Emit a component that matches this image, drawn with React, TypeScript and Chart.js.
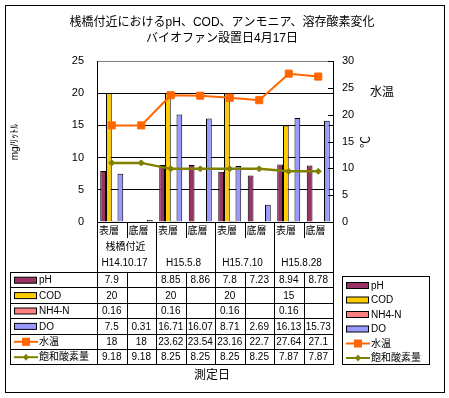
import { useEffect, useRef } from "react";
import { Chart, registerables } from "chart.js";
Chart.register(...registerables);

const categories = ["表層", "底層", "表層", "底層", "表層", "底層", "表層", "底層"];
const groupLabels = ["H14.10.17", "H15.5.8", "H15.7.10", "H15.8.28"];
const siteLabel = "桟橋付近";
const phValues = [7.9, null, 8.85, 8.86, 7.8, 7.23, 8.94, 8.78];
const codValues = [20, null, 20, null, 20, null, 15, null];
const nh4Values = [0.16, null, 0.16, null, 0.16, null, 0.16, null];
const doValues = [7.5, 0.31, 16.71, 16.07, 8.71, 2.69, 16.13, 15.73];
const waterTemp = [18, 18, 23.62, 23.54, 23.16, 22.7, 27.64, 27.1];
const satOxygen = [9.18, 9.18, 8.25, 8.25, 8.25, 8.25, 7.87, 7.87];

const titleLine1 = "桟橋付近におけるpH、COD、アンモニア、溶存酸素変化";
const titleLine2 = "バイオファン設置日4月17日";
const leftAxisTitle = "mg/ﾘｯﾄﾙ";
const rightAxisTitle = "水温";
const rightAxisUnit = "℃";
const xAxisTitle = "測定日";

const FONT = '"Liberation Sans", "Noto Sans CJK JP", sans-serif';

type DS = any;

function drawKey(ctx: CanvasRenderingContext2D, ds: DS, x: number, y: number) {
  ctx.save();
  if (ds.type === "line") {
    ctx.strokeStyle = ds.borderColor;
    ctx.lineWidth = 2;
    ctx.beginPath();
    ctx.moveTo(x, y + 0.5);
    ctx.lineTo(x + 24, y + 0.5);
    ctx.stroke();
    ctx.fillStyle = ds.pointBackgroundColor;
    const cx = x + 12;
    if (ds.pointStyle === "rect") {
      ctx.fillRect(cx - 4, y - 3.5, 8, 8);
    } else {
      ctx.beginPath();
      ctx.moveTo(cx, y - 3);
      ctx.lineTo(cx + 3, y + 0.5);
      ctx.lineTo(cx, y + 4);
      ctx.lineTo(cx - 3, y + 0.5);
      ctx.closePath();
      ctx.fill();
    }
  } else {
    ctx.fillStyle = ds.backgroundColor;
    ctx.fillRect(x + 0.5, y - 2.5, 22, 6);
    ctx.strokeStyle = "#000";
    ctx.lineWidth = 1;
    ctx.strokeRect(x + 0.5, y - 2.5, 22, 6);
  }
  ctx.restore();
}

const hline = (ctx: CanvasRenderingContext2D, x1: number, x2: number, y: number) => {
  const yy = Math.round(y) + 0.5;
  ctx.beginPath();
  ctx.moveTo(Math.round(x1), yy);
  ctx.lineTo(Math.round(x2) + 1, yy);
  ctx.stroke();
};
const vline = (ctx: CanvasRenderingContext2D, x: number, y1: number, y2: number) => {
  const xx = Math.round(x) + 0.5;
  ctx.beginPath();
  ctx.moveTo(xx, Math.round(y1));
  ctx.lineTo(xx, Math.round(y2) + 1);
  ctx.stroke();
};

const decorPlugin = {
  id: "decor",
  beforeDraw(chart: any) {
    const { ctx, width, height } = chart;
    ctx.save();
    ctx.fillStyle = "#fff";
    ctx.fillRect(0, 0, width, height);
    ctx.restore();
  },
  afterDraw(chart: any) {
    const ctx: CanvasRenderingContext2D = chart.ctx;
    const { left, right, top, bottom } = chart.chartArea;
    const xs = chart.scales.x;
    const y1 = chart.scales.y1;
    const n = categories.length;
    const w = (right - left) / n;
    const colX = (i: number) => xs.getPixelForValue(0) - w / 2 + i * w;
    const datasets = chart.data.datasets;

    ctx.save();
    ctx.strokeStyle = "#000";
    ctx.lineWidth = 1;
    ctx.fillStyle = "#000";

    // outer border
    ctx.strokeRect(5.5, 5.5, 439, 387);

    // right axis inner ticks
    y1.ticks.forEach((t: any) => {
      const py = y1.getPixelForValue(t.value);
      hline(ctx, right - 5, right, py);
    });

    // header rows
    const tableTop = 272;
    const rowH = 15.4;
    const tableBottom = tableTop + rowH * datasets.length;
    for (let i = 0; i <= n; i++) {
      if (i % 2 === 0) vline(ctx, colX(i), bottom, tableBottom);
      else vline(ctx, colX(i), bottom, bottom + 15);
    }
    ctx.textBaseline = "middle";
    ctx.font = `10px ${FONT}`;
    ctx.textAlign = "left";
    categories.forEach((c, i) => ctx.fillText(c, colX(i) + 2, bottom + 9));
    ctx.textAlign = "center";
    ctx.fillText(siteLabel, (colX(0) + colX(2)) / 2 - 1, bottom + 25);
    groupLabels.forEach((g, k) => ctx.fillText(g, (colX(2 * k) + colX(2 * k + 2)) / 2 - 2, bottom + 41));

    // data table
    for (let r = 0; r <= datasets.length; r++) hline(ctx, 10, colX(n), tableTop + r * rowH);
    vline(ctx, 10, tableTop, tableBottom);
    for (let i = 1; i < n; i += 2) vline(ctx, colX(i), tableTop, tableBottom);
    datasets.forEach((ds: DS, r: number) => {
      const cy = tableTop + r * rowH + rowH / 2;
      drawKey(ctx, ds, 14, cy);
      ctx.fillStyle = "#000";
      ctx.textAlign = "left";
      ctx.font = `10px ${FONT}`;
      ctx.fillText(ds.label, 39, cy + 1);
      ctx.textAlign = "center";
      ds.data.forEach((v: number | null, i: number) => {
        if (v === null || v === undefined) return;
        ctx.fillText(String(v), colX(i) + w / 2, cy + 1);
      });
    });

    // legend box
    ctx.strokeRect(342.5, 276.5, 87, 88);
    datasets.forEach((ds: DS, r: number) => {
      const cy = 285 + r * 14.5;
      drawKey(ctx, ds, 346, cy);
      ctx.fillStyle = "#000";
      ctx.textAlign = "left";
      ctx.font = `10px ${FONT}`;
      ctx.fillText(ds.label, 371, cy + 1);
    });

    // titles
    ctx.textAlign = "center";
    ctx.font = `12px ${FONT}`;
    ctx.fillText(titleLine1, 222, 23);
    ctx.fillText(titleLine2, 222, 39);
    ctx.fillText(xAxisTitle, 212, 376);
    ctx.textAlign = "left";
    ctx.fillText(rightAxisTitle, 370, 93);

    ctx.save();
    ctx.translate(15, 142);
    ctx.rotate(-Math.PI / 2);
    ctx.textAlign = "center";
    ctx.font = `10px ${FONT}`;
    ctx.fillText(leftAxisTitle, 0, 0);
    ctx.restore();

    ctx.save();
    ctx.translate(367, 142);
    ctx.rotate(-Math.PI / 2);
    ctx.textAlign = "center";
    ctx.font = `12px ${FONT}`;
    ctx.fillText(rightAxisUnit, 0, 0);
    ctx.restore();

    ctx.restore();
  },
};

export default function App() {
  const ref = useRef<HTMLCanvasElement>(null);
  useEffect(() => {
    if (!ref.current) return;
    const barCommon = {
      type: "bar",
      borderColor: "#000",
      borderWidth: 1,
      categoryPercentage: 0.78,
      barPercentage: 1,
      yAxisID: "y",
      order: 2,
    };
    const chart = new Chart(ref.current, {
      type: "bar",
      data: {
        labels: categories,
        datasets: [
          { ...barCommon, label: "pH", data: phValues, backgroundColor: "#993366" },
          { ...barCommon, label: "COD", data: codValues, backgroundColor: "#FFCC00" },
          { ...barCommon, label: "NH4-N", data: nh4Values, backgroundColor: "#FF8080" },
          { ...barCommon, label: "DO", data: doValues, backgroundColor: "#9999FF" },
          {
            type: "line",
            label: "水温",
            data: waterTemp,
            yAxisID: "y1",
            borderColor: "#FF6600",
            backgroundColor: "#FF6600",
            pointBackgroundColor: "#FF6600",
            pointBorderColor: "#FF6600",
            pointStyle: "rect",
            pointRadius: 5,
            pointBorderWidth: 1,
            borderWidth: 2,
            tension: 0,
            order: 0,
          },
          {
            type: "line",
            label: "飽和酸素量",
            data: satOxygen,
            yAxisID: "y",
            borderColor: "#808000",
            backgroundColor: "#808000",
            pointBackgroundColor: "#808000",
            pointBorderColor: "#808000",
            pointStyle: "rectRot",
            pointRadius: 3,
            pointBorderWidth: 1,
            borderWidth: 2.5,
            tension: 0,
            order: 1,
          },
        ] as any,
      },
      options: {
        responsive: false,
        animation: false,
        layout: { padding: { top: 61, bottom: 176, left: 0, right: 0 } },
        plugins: { legend: { display: false }, title: { display: false }, tooltip: { enabled: false } },
        scales: {
          x: { display: false, offset: true },
          y: {
            position: "left",
            min: 0,
            max: 25,
            ticks: { stepSize: 5, padding: 13, color: "#000", font: { family: FONT, size: 11 } },
            grid: {
              drawTicks: false,
              color: (c: any) => (c.tick && c.tick.value === 25 ? "#808080" : "#000"),
              lineWidth: 1,
            },
            border: { display: true, color: "#000" },
            afterFit: (s: any) => {
              s.width = 97;
            },
          },
          y1: {
            position: "right",
            min: 0,
            max: 30,
            ticks: { stepSize: 5, padding: 9, color: "#000", font: { family: FONT, size: 11 } },
            grid: { drawOnChartArea: false, drawTicks: false },
            border: { display: true, color: "#000" },
            afterFit: (s: any) => {
              s.width = 116;
            },
          },
        },
      } as any,
      plugins: [decorPlugin],
    });
    return () => chart.destroy();
  }, []);
  return (
    <div style={{ position: "absolute", left: 0, top: 0, width: 449, height: 398 }}>
      <canvas ref={ref} width={449} height={398} style={{ display: "block" }} />
    </div>
  );
}
